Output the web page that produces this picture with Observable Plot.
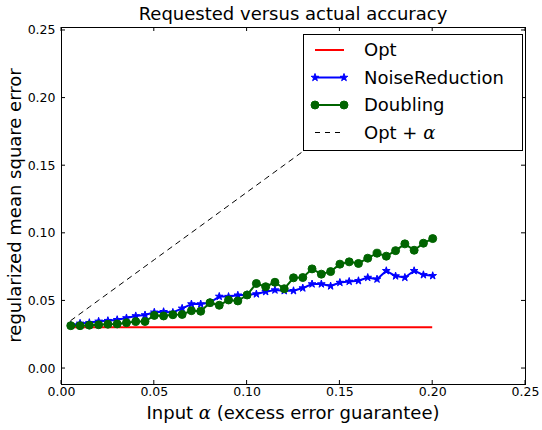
<!DOCTYPE html>
<html><head><meta charset="utf-8">
<script src="https://cdn.jsdelivr.net/npm/d3@7"></script>
<script src="https://cdn.jsdelivr.net/npm/@observablehq/plot@0.6"></script>
<style>body{margin:0;background:#fff;} svg{font-family:"DejaVu Sans",sans-serif;}</style>
</head><body><div id="chart"></div>
<script>
const alpha = [0.005,0.010,0.015,0.020,0.025,0.030,0.035,0.040,0.045,0.050,
  0.055,0.060,0.065,0.070,0.075,0.080,0.085,0.090,0.095,0.100,
  0.105,0.110,0.115,0.120,0.125,0.130,0.135,0.140,0.145,0.150,
  0.155,0.160,0.165,0.170,0.175,0.180,0.185,0.190,0.195,0.200];
const optLevel = 0.0305;
const noiseReduction = [0.0321,0.0334,0.0339,0.0349,0.0354,0.0361,0.0374,0.0389,0.0396,0.0416,
  0.0420,0.0415,0.0445,0.0477,0.0477,0.0487,0.0533,0.0532,0.0542,0.0545,
  0.0551,0.0568,0.0580,0.0575,0.0575,0.0595,0.0625,0.0625,0.0610,0.0636,
  0.0644,0.0649,0.0673,0.0661,0.0723,0.0684,0.0673,0.0723,0.0693,0.0686];
const doubling = [0.0317,0.0317,0.0321,0.0324,0.0328,0.0330,0.0339,0.0347,0.0348,0.0393,
  0.0389,0.0398,0.0400,0.0428,0.0424,0.0487,0.0468,0.0507,0.0500,0.0544,
  0.0629,0.0605,0.0638,0.0590,0.0671,0.0673,0.0737,0.0698,0.0717,0.0772,
  0.0789,0.0777,0.0816,0.0853,0.0831,0.0872,0.0922,0.0875,0.0927,0.0961];
const optPlusAlpha = [0.0355,0.0405,0.0455,0.0505,0.0555,0.0605,0.0655,0.0705,0.0755,0.0805,
  0.0855,0.0905,0.0955,0.1005,0.1055,0.1105,0.1155,0.1205,0.1255,0.1305,
  0.1355,0.1405,0.1455,0.1505,0.1555,0.1605,0.1655,0.1705,0.1755,0.1805,
  0.1855,0.1905,0.1955,0.2005,0.2055,0.2105,0.2155,0.2205,0.2255,0.2305];
const xTicks = [0.00,0.05,0.10,0.15,0.20,0.25];
const yTicks = [0.00,0.05,0.10,0.15,0.20,0.25];
const legendLabels = ["Opt","NoiseReduction","Doubling","Opt + "];

const BLUE = "#0000ff", GREEN = "#006400", RED = "#ff0000";
const STAR_R = 2.4, DOT_R = 4;
const nrRows = alpha.map((a,i)=>({x:a, y:noiseReduction[i]}));
const dbRows = alpha.map((a,i)=>({x:a, y:doubling[i]}));
const opRows = alpha.map((a,i)=>({x:a, y:optPlusAlpha[i]}));
const fmt = d => d.toFixed(2);

const plot = Plot.plot({
  width: 542, height: 430,
  marginLeft: 61, marginRight: 17, marginTop: 27, marginBottom: 46,
  style: {fontFamily: "DejaVu Sans", fontSize: "12.5px", color: "black", background: "white"},
  x: {domain: [0, 0.25]},
  y: {domain: [-0.0118, 0.2522]},
  marks: [
    Plot.ruleY([optLevel], {x1: alpha[0], x2: alpha[alpha.length-1], stroke: RED, strokeWidth: 2}),
    Plot.line(nrRows, {x: "x", y: "y", stroke: BLUE, strokeWidth: 2}),
    Plot.dot(nrRows, {x: "x", y: "y", symbol: "star", r: STAR_R, fill: BLUE, stroke: BLUE, strokeWidth: 1}),
    Plot.line(dbRows, {x: "x", y: "y", stroke: GREEN, strokeWidth: 2}),
    Plot.dot(dbRows, {x: "x", y: "y", r: DOT_R, fill: GREEN, stroke: GREEN, strokeWidth: 1}),
    Plot.line(opRows, {x: "x", y: "y", stroke: "black", strokeWidth: 1, strokeDasharray: "5,5"}),
    Plot.frame({stroke: "black", strokeWidth: 1}),
    Plot.axisX({ticks: xTicks, tickSize: 0, tickPadding: 3, tickFormat: fmt, fontSize: 12.5, label: null}),
    Plot.axisY({ticks: yTicks, tickSize: 0, tickPadding: 6, tickFormat: fmt, fontSize: 12.5, label: null})
  ]
});
document.getElementById("chart").appendChild(plot);

const svg = d3.select(plot);
const xs = plot.scale("x"), ys = plot.scale("y");
const [L, R] = xs.range, [B, T] = ys.range;
const tk = svg.append("g").attr("stroke", "black").attr("stroke-width", 1);
xTicks.forEach(v => {
  const px = xs.apply(v);
  tk.append("line").attr("x1", px).attr("x2", px).attr("y1", B).attr("y2", B - 4);
  tk.append("line").attr("x1", px).attr("x2", px).attr("y1", T).attr("y2", T + 4);
});
yTicks.forEach(v => {
  const py = ys.apply(v);
  tk.append("line").attr("x1", L).attr("x2", L + 4).attr("y1", py).attr("y2", py);
  tk.append("line").attr("x1", R).attr("x2", R - 4).attr("y1", py).attr("y2", py);
});

// title
const cx = (L + R) / 2;
svg.append("text").attr("x", cx).attr("y", 20).attr("text-anchor", "middle")
  .attr("font-size", 18).attr("fill", "black").text("Requested versus actual accuracy");
// x label
const xl = svg.append("text").attr("x", cx).attr("y", 419).attr("text-anchor", "middle")
  .attr("font-size", 18).attr("fill", "black");
xl.append("tspan").text("Input ");
xl.append("tspan").attr("font-family", "DejaVu Serif").attr("font-style", "italic").text("α");
xl.append("tspan").text(" (excess error guarantee)");
// y label
svg.append("text").attr("transform", `translate(21,${(T + B) / 2}) rotate(-90)`)
  .attr("text-anchor", "middle").attr("font-size", 18).attr("fill", "black")
  .text("regularized mean square error");

// legend
const lg = svg.append("g");
lg.append("rect").attr("x", 303.5).attr("y", 34.5).attr("width", 219).attr("height", 116)
  .attr("fill", "white").attr("stroke", "black").attr("stroke-width", 1);
const rowsY = [50, 77.5, 105, 132.5];
const lx1 = 315, lx2 = 344, tx = 364;
lg.append("line").attr("x1", lx1).attr("x2", lx2).attr("y1", rowsY[0]).attr("y2", rowsY[0]).attr("stroke", RED).attr("stroke-width", 2);
lg.append("line").attr("x1", lx1).attr("x2", lx2).attr("y1", rowsY[1]).attr("y2", rowsY[1]).attr("stroke", BLUE).attr("stroke-width", 2);
[lx1, lx2].forEach(px => lg.append("path").attr("d", d3.symbol(d3.symbolStar, Math.PI * STAR_R * STAR_R)())
  .attr("transform", `translate(${px},${rowsY[1]})`).attr("fill", BLUE).attr("stroke", BLUE));
lg.append("line").attr("x1", lx1).attr("x2", lx2).attr("y1", rowsY[2]).attr("y2", rowsY[2]).attr("stroke", GREEN).attr("stroke-width", 2);
[lx1, lx2].forEach(px => lg.append("circle").attr("cx", px).attr("cy", rowsY[2]).attr("r", DOT_R).attr("fill", GREEN).attr("stroke", GREEN));
lg.append("line").attr("x1", lx1).attr("x2", lx2).attr("y1", rowsY[3]).attr("y2", rowsY[3]).attr("stroke", "black").attr("stroke-width", 1).attr("stroke-dasharray", "5,5");
legendLabels.forEach((t, i) => {
  const te = lg.append("text").attr("x", tx).attr("y", rowsY[i]).attr("dy", "0.36em")
    .attr("text-anchor", "start").attr("font-size", 18).attr("fill", "black").text(t);
  if (i === 3) te.append("tspan").attr("font-family", "DejaVu Serif").attr("font-style", "italic").text("α");
});
</script></body></html>
